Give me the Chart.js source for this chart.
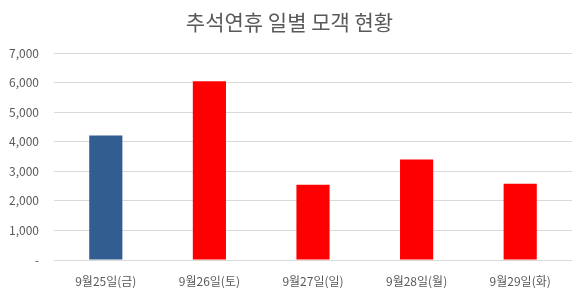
<!DOCTYPE html>
<html>
<head>
<meta charset="utf-8">
<script src="https://cdn.jsdelivr.net/npm/chart.js@4"></script>
<style>
  html, body { margin: 0; padding: 0; background: #fff; }
  #wrap { width: 585px; height: 293px; }
</style>
</head>
<body>
<div id="wrap"><canvas id="chart"></canvas></div>
<script>
// Chart data
const categories = ['9월25일(금)', '9월26일(토)', '9월27일(일)', '9월28일(월)', '9월29일(화)'];
const visitors = [4210, 6050, 2550, 3400, 2580];
const barColors = ['#325D91', '#FF0000', '#FF0000', '#FF0000', '#FF0000'];
const yTicks = [0, 1000, 2000, 3000, 4000, 5000, 6000, 7000];

const font = "'Noto Sans CJK KR', 'Noto Sans', sans-serif";
const grey = '#595959';

const ctx = document.getElementById('chart').getContext('2d');
new Chart(ctx, {
    type: 'bar',
    data: {
        labels: categories,
        datasets: [{
            data: visitors,
            backgroundColor: barColors,
            barPercentage: 0.32,
            categoryPercentage: 1
        }]
    },
    options: {
        responsive: true,
        maintainAspectRatio: false,
        animation: false,
        layout: { padding: { left: 7, right: 13, top: 7, bottom: 5 } },
        plugins: {
            legend: { display: false },
            tooltip: { enabled: false },
            title: {
                display: true,
                text: '추석연휴 일별 모객 현황',
                color: grey,
                font: { family: font, size: 21, weight: 'normal' },
                padding: { top: 2, bottom: 19 }
            }
        },
        scales: {
            x: {
                grid: { display: false, drawTicks: false },
                border: { display: false },
                ticks: {
                    color: grey,
                    font: { family: font, size: 12 },
                    padding: 14,
                    maxRotation: 0
                },
                // fixed axis box so the plot area lines up with the reference
                afterFit: axis => {
                    axis.height = 28;
                    axis.paddingLeft = 0;
                    axis.paddingRight = 0;
                }
            },
            y: {
                min: 0,
                max: 7000,
                afterBuildTicks: axis => { axis.ticks = yTicks.map(v => ({ value: v })); },
                grid: { color: '#D9D9D9', drawTicks: false },
                border: { display: false },
                ticks: {
                    color: grey,
                    font: { family: font, size: 12 },
                    padding: 15,
                    callback: v => v === 0 ? '-' : v.toLocaleString('en-US')
                },
                afterFit: axis => {
                    axis.width = 47;
                    axis.paddingTop = 0;
                    axis.paddingBottom = 0;
                }
            }
        }
    }
});
</script>
</body>
</html>
